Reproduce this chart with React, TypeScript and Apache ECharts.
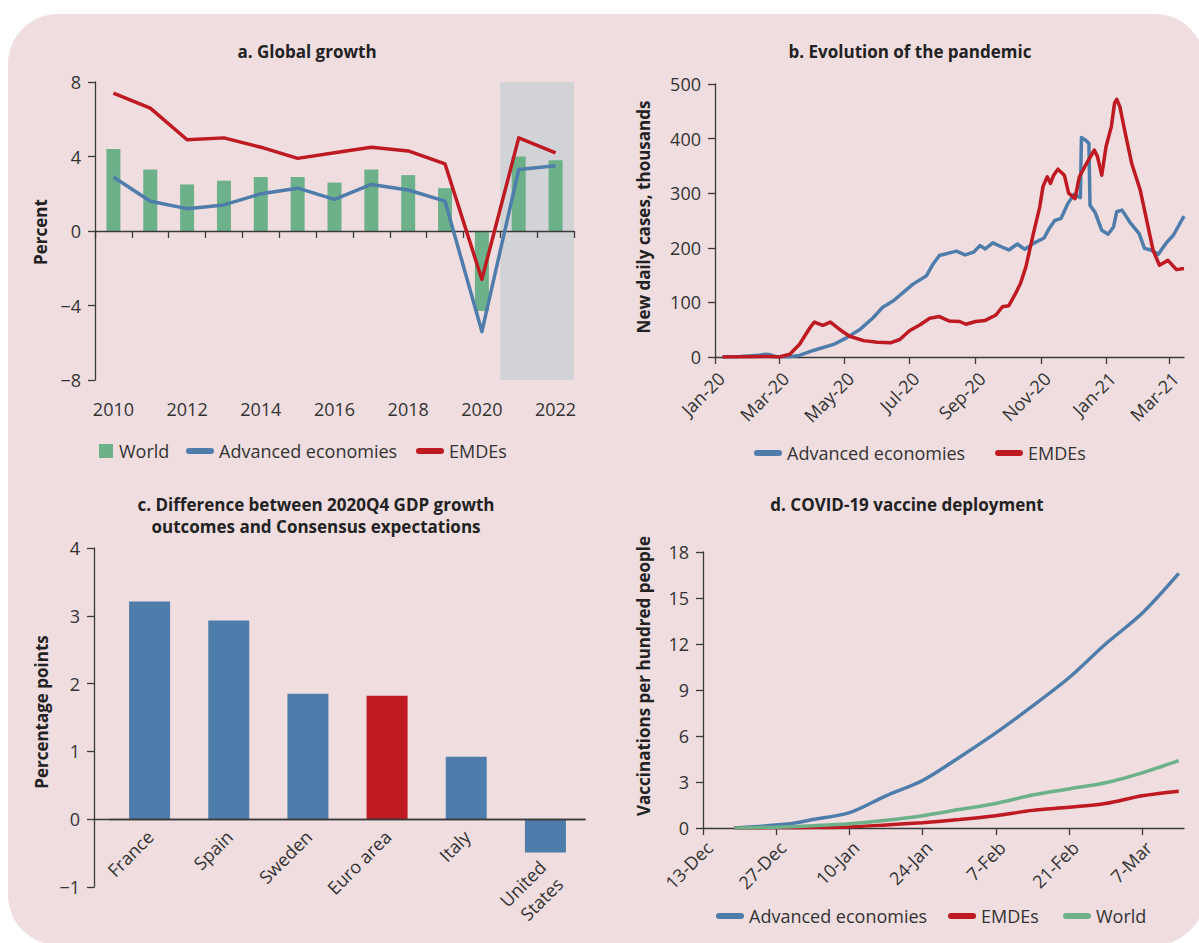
import React, { useEffect, useRef } from 'react';
import * as echarts from 'echarts';

const FONT = "'Open Sans', 'DejaVu Sans', sans-serif";
const BG = '#efdde0';
const BLUE = '#4f7dab';
const RED = '#bf1922';
const GREEN = '#6db18a';
const SHADE = '#d2d3d6';
const AXIS = '#3a3a3a';
const TEXT = '#333333';

// ---------- Panel a: Global growth ----------
const years = ['2010', '2011', '2012', '2013', '2014', '2015', '2016', '2017', '2018', '2019', '2020', '2021', '2022'];
const worldGrowth = [4.4, 3.3, 2.5, 2.7, 2.9, 2.9, 2.6, 3.3, 3.0, 2.3, -4.3, 4.0, 3.8];
const aeGrowth = [2.9, 1.6, 1.2, 1.4, 2.0, 2.3, 1.7, 2.5, 2.2, 1.6, -5.4, 3.3, 3.5];
const emdeGrowth = [7.4, 6.6, 4.9, 5.0, 4.5, 3.9, 4.2, 4.5, 4.3, 3.6, -2.6, 5.0, 4.2];
const forecastYears = ['2021', '2022'];
const growthMin = -8;
const growthMax = 8;

// ---------- Panel b: Evolution of the pandemic ----------
const caseTickDates = ['2020-01-01', '2020-03-01', '2020-05-01', '2020-07-01', '2020-09-01', '2020-11-01', '2021-01-01', '2021-03-01'];
const caseTickLabels = ['Jan-20', 'Mar-20', 'May-20', 'Jul-20', 'Sep-20', 'Nov-20', 'Jan-21', 'Mar-21'];
const caseAxisEnd = '2021-03-15';
const aeCases: [string, number][] = [
  ['2020-01-08', 0], ['2020-01-25', 1], ['2020-02-02', 2], ['2020-02-10', 3], ['2020-02-17', 5], ['2020-02-22', 4],
  ['2020-02-27', 0.5], ['2020-03-10', 0.5], ['2020-03-20', 3], ['2020-04-02', 12], ['2020-04-21', 23], ['2020-05-03', 35],
  ['2020-05-16', 51], ['2020-05-28', 72], ['2020-06-06', 91], ['2020-06-16', 103], ['2020-06-25', 118], ['2020-07-04', 133],
  ['2020-07-17', 149], ['2020-07-23', 170], ['2020-07-29', 186], ['2020-08-14', 194], ['2020-08-22', 187], ['2020-08-30', 192],
  ['2020-09-05', 204], ['2020-09-10', 198], ['2020-09-17', 209], ['2020-09-26', 201], ['2020-10-02', 196], ['2020-10-10', 207],
  ['2020-10-17', 197], ['2020-10-25', 208], ['2020-11-04', 218], ['2020-11-09', 236], ['2020-11-14', 250], ['2020-11-20', 254],
  ['2020-11-26', 280], ['2020-12-02', 298], ['2020-12-08', 292], ['2020-12-09', 402], ['2020-12-13', 397], ['2020-12-16', 391],
  ['2020-12-17', 278], ['2020-12-22', 264], ['2020-12-28', 232], ['2021-01-03', 225], ['2021-01-08', 238], ['2021-01-11', 266],
  ['2021-01-16', 269], ['2021-01-24', 245], ['2021-02-01', 226], ['2021-02-06', 199], ['2021-02-12', 196], ['2021-02-19', 188],
  ['2021-02-26', 208], ['2021-03-05', 223], ['2021-03-15', 258],
];
const emdeCases: [string, number][] = [
  ['2020-01-08', 0], ['2020-02-01', 0.5], ['2020-02-20', 1], ['2020-03-01', 0], ['2020-03-11', 5], ['2020-03-20', 23],
  ['2020-03-30', 54], ['2020-04-03', 64], ['2020-04-11', 58], ['2020-04-18', 64], ['2020-04-27', 50], ['2020-05-06', 38],
  ['2020-05-19', 30], ['2020-06-01', 27], ['2020-06-13', 26], ['2020-06-22', 32], ['2020-07-01', 48], ['2020-07-11', 59],
  ['2020-07-20', 71], ['2020-07-29', 74], ['2020-08-07', 66], ['2020-08-17', 65], ['2020-08-23', 60], ['2020-09-01', 65],
  ['2020-09-10', 67], ['2020-09-20', 77], ['2020-09-26', 92], ['2020-10-02', 94], ['2020-10-08', 115], ['2020-10-13', 135],
  ['2020-10-18', 165], ['2020-10-25', 226], ['2020-10-31', 275], ['2020-11-03', 312], ['2020-11-07', 330], ['2020-11-10', 318],
  ['2020-11-13', 333], ['2020-11-17', 344], ['2020-11-23', 333], ['2020-11-27', 300], ['2020-12-03', 290], ['2020-12-07', 330],
  ['2020-12-14', 355], ['2020-12-21', 379], ['2020-12-24', 367], ['2020-12-28', 333], ['2021-01-01', 385], ['2021-01-06', 422],
  ['2021-01-09', 465], ['2021-01-11', 472], ['2021-01-14', 458], ['2021-01-19', 410], ['2021-01-25', 355], ['2021-02-02', 306],
  ['2021-02-08', 251], ['2021-02-14', 196], ['2021-02-20', 168], ['2021-02-28', 177], ['2021-03-08', 160], ['2021-03-15', 162],
];

// ---------- Panel c: GDP surprise ----------
const countries = ['France', 'Spain', 'Sweden', 'Euro area', 'Italy', 'United\nStates'];
const gdpSurprise = [3.21, 2.93, 1.85, 1.82, 0.92, -0.49];
const highlightedCountry = 'Euro area';
const surpriseMin = -1;
const surpriseMax = 4;

// ---------- Panel d: Vaccine deployment ----------
const vaxTickDates = ['2020-12-13', '2020-12-27', '2021-01-10', '2021-01-24', '2021-02-07', '2021-02-21', '2021-03-07'];
const vaxTickLabels = ['13-Dec', '27-Dec', '10-Jan', '24-Jan', '7-Feb', '21-Feb', '7-Mar'];
const vaxAxisEnd = '2021-03-15';
const aeVax: [string, number][] = [
  ['2020-12-19', 0], ['2020-12-24', 0.12], ['2020-12-30', 0.3], ['2021-01-03', 0.55], ['2021-01-10', 1.0], ['2021-01-17', 2.1],
  ['2021-01-24', 3.1], ['2021-01-31', 4.6], ['2021-02-07', 6.2], ['2021-02-14', 7.95], ['2021-02-21', 9.8], ['2021-02-28', 12.0],
  ['2021-03-07', 14.0], ['2021-03-14', 16.6],
];
const emdeVax: [string, number][] = [
  ['2020-12-19', 0], ['2020-12-27', 0.01], ['2021-01-03', 0.03], ['2021-01-10', 0.07], ['2021-01-17', 0.2], ['2021-01-24', 0.35],
  ['2021-01-31', 0.55], ['2021-02-07', 0.8], ['2021-02-14', 1.15], ['2021-02-21', 1.35], ['2021-02-28', 1.6], ['2021-03-07', 2.1],
  ['2021-03-14', 2.4],
];
const worldVax: [string, number][] = [
  ['2020-12-19', 0], ['2020-12-27', 0.05], ['2021-01-03', 0.15], ['2021-01-10', 0.28], ['2021-01-17', 0.5], ['2021-01-24', 0.8],
  ['2021-01-31', 1.2], ['2021-02-07', 1.6], ['2021-02-14', 2.15], ['2021-02-21', 2.55], ['2021-02-28', 2.95], ['2021-03-07', 3.6],
  ['2021-03-14', 4.4],
];

// ---------- helpers ----------
const DAY = 86400000;
const parseDay = (s: string) => Date.parse(s + 'T00:00:00Z');
function dayRange(start: string, end: string): string[] {
  const out: string[] = [];
  for (let t = parseDay(start); t <= parseDay(end); t += DAY) out.push(new Date(t).toISOString().slice(0, 10));
  return out;
}
const caseDays = dayRange(caseTickDates[0], caseAxisEnd);
const vaxDays = dayRange(vaxTickDates[0], vaxAxisEnd);
const toIndexed = (days: string[], pts: [string, number][]) => pts.map(([d, v]) => [days.indexOf(d), v]);
const minus = (v: number) => String(v).replace('-', '\u2212');

const axisLineStyle = { color: AXIS, width: 1.3 };
const labelBase = { color: TEXT, fontFamily: FONT, fontSize: 18 };
const lineIcon = 'path://M3,0 L25,0 A3,3 0 0 1 25,6 L3,6 A3,3 0 0 1 3,0 Z';
const squareIcon = 'path://M0,0 L14,0 L14,14 L0,14 Z';

function legendItem(name: string, icon: string, color: string, left: number, top: number, width = 28) {
  return {
    show: true, left, top, padding: 0, itemGap: 0, itemWidth: width, itemHeight: 14, selectedMode: false,
    data: [{ name, icon, itemStyle: { color, borderWidth: 0 } }],
    textStyle: { color: TEXT, fontFamily: FONT, fontSize: 18 },
  };
}

function titleText(text: string, x: number, y: number) {
  return {
    type: 'text', x, y, silent: true,
    style: { text, fill: '#222', fontFamily: FONT, fontSize: 17, fontWeight: 'bold', align: 'center', textAlign: 'center', verticalAlign: 'middle', textVerticalAlign: 'middle', lineHeight: 22 },
  };
}
function axisName(text: string, x: number, y: number) {
  return {
    type: 'text', x, y, rotation: Math.PI / 2, silent: true,
    style: { text, fill: '#222', fontFamily: FONT, fontSize: 17, fontWeight: 'bold', align: 'center', textAlign: 'center', verticalAlign: 'middle', textVerticalAlign: 'middle' },
  };
}

function buildOption() {
  const caseTickFn = (_i: number, v: string) => caseTickDates.includes(v);
  const vaxTickFn = (_i: number, v: string) => vaxTickDates.includes(v);
  const valueAxis = (gridIndex: number, min: number, max: number, interval: number, extra: any = {}) => ({
    type: 'value', gridIndex, min, max, interval,
    axisLine: { show: true, onZero: false, lineStyle: axisLineStyle },
    axisTick: { show: true, length: 7, lineStyle: axisLineStyle },
    axisLabel: { ...labelBase, margin: 14, formatter: minus },
    splitLine: { show: false },
    ...extra,
  });
  const g = (left: number, top: number, width: number, height: number) => ({ left, top, width, height, containLabel: false, outerBoundsMode: 'none' });

  // panel c layout: bars grid, a helper grid to extend the zero line to the y axis, and a labels grid ending at zero
  const cTop = 548;
  const cHeight = 339;
  const cZeroHeight = (cHeight * surpriseMax) / (surpriseMax - surpriseMin);

  return {
    animation: false,
    textStyle: { fontFamily: FONT },
    grid: [
      g(95, 82, 479, 298),
      g(715, 84, 469, 273),
      g(110, cTop, 475, cHeight),
      g(94, cTop, 491, cHeight),
      g(703, 552, 481, 276),
      g(110, cTop, 475, cZeroHeight),
    ],
    xAxis: [
      {
        type: 'category', gridIndex: 0, data: years, position: 'bottom',
        axisLine: { show: false, onZero: false }, axisTick: { show: false },
        axisLabel: { ...labelBase, interval: 1, margin: 20 }, splitLine: { show: false },
      },
      {
        type: 'category', gridIndex: 0, data: years, position: 'bottom', z: 3,
        axisLine: { show: true, onZero: true, lineStyle: axisLineStyle },
        axisTick: { show: true, interval: 0, length: 7, lineStyle: axisLineStyle },
        axisLabel: { show: false }, splitLine: { show: false },
      },
      {
        type: 'category', gridIndex: 1, data: caseDays, boundaryGap: false,
        axisLine: { show: true, onZero: true, lineStyle: axisLineStyle },
        axisTick: { show: true, interval: caseTickFn, length: 7, lineStyle: axisLineStyle },
        axisLabel: {
          ...labelBase, interval: caseTickFn, rotate: 45, align: 'right', verticalAlign: 'top', margin: 12,
          formatter: (v: string) => caseTickLabels[caseTickDates.indexOf(v)] ?? '',
        },
        splitLine: { show: false },
      },
      {
        type: 'category', gridIndex: 2, z: 3, data: countries,
        axisLine: { show: true, onZero: true, lineStyle: axisLineStyle },
        axisTick: { show: false }, axisLabel: { show: false }, splitLine: { show: false },
      },
      {
        type: 'value', gridIndex: 3, min: 0, max: 1, z: 3,
        axisLine: { show: true, onZero: true, lineStyle: axisLineStyle },
        axisTick: { show: false }, axisLabel: { show: false }, splitLine: { show: false },
      },
      {
        type: 'category', gridIndex: 4, data: vaxDays, boundaryGap: false,
        axisLine: { show: true, onZero: true, lineStyle: axisLineStyle },
        axisTick: { show: true, interval: vaxTickFn, length: 7, lineStyle: axisLineStyle },
        axisLabel: {
          ...labelBase, interval: vaxTickFn, rotate: 45, align: 'right', verticalAlign: 'top', margin: 10,
          formatter: (v: string) => vaxTickLabels[vaxTickDates.indexOf(v)] ?? '',
        },
        splitLine: { show: false },
      },
      {
        type: 'category', gridIndex: 5, position: 'bottom',
        data: countries.map((c) =>
          c.includes('\n')
            ? { value: c, textStyle: { ...labelBase, align: 'right', verticalAlign: 'top', padding: [19, 35, 0, 0], lineHeight: 24 } }
            : c,
        ),
        axisLine: { show: false, onZero: false }, axisTick: { show: false },
        axisLabel: { ...labelBase, interval: 0, rotate: 45, align: 'right', verticalAlign: 'top', margin: -2, padding: [0, 11, 0, 0], lineHeight: 24 },
        splitLine: { show: false },
      },
    ],
    yAxis: [
      valueAxis(0, growthMin, growthMax, 4),
      valueAxis(1, 0, 500, 100),
      valueAxis(2, surpriseMin, surpriseMax, 1, { offset: 16 }),
      { type: 'value', gridIndex: 3, min: surpriseMin, max: surpriseMax, show: false, splitLine: { show: false } },
      valueAxis(4, 0, 18, 3),
      { type: 'value', gridIndex: 5, min: 0, max: surpriseMax, show: false, splitLine: { show: false } },
    ],
    legend: [
      legendItem('World', squareIcon, GREEN, 99, 442, 16),
      legendItem('Advanced economies', lineIcon, BLUE, 186, 442),
      legendItem('EMDEs', lineIcon, RED, 416, 442),
      legendItem('Advanced economies', lineIcon, BLUE, 754, 444),
      legendItem('EMDEs', lineIcon, RED, 995, 444),
      legendItem('Advanced economies', lineIcon, BLUE, 716, 907),
      legendItem('EMDEs', lineIcon, RED, 948, 907),
      legendItem('World', lineIcon, GREEN, 1063, 907),
    ],
    graphic: [
      titleText('a. Global growth', 307, 51),
      titleText('b. Evolution of the pandemic', 910, 51),
      titleText('c. Difference between 2020Q4 GDP growth\noutcomes and Consensus expectations', 316, 515),
      titleText('d. COVID-19 vaccine deployment', 907, 504),
      axisName('Percent', 40, 232),
      axisName('New daily cases, thousands', 643, 217),
      axisName('Percentage points', 41, 712),
      axisName('Vaccinations per hundred people', 643, 676),
    ],
    series: [
      // Panel a
      {
        name: 'forecastShadeUp', type: 'bar', xAxisIndex: 0, yAxisIndex: 0, stack: 'shade', barWidth: '100%', silent: true, z: 1,
        data: years.map((y) => (forecastYears.includes(y) ? growthMax : null)), itemStyle: { color: SHADE },
      },
      {
        name: 'forecastShadeDown', type: 'bar', xAxisIndex: 0, yAxisIndex: 0, stack: 'shade', barWidth: '100%', silent: true, z: 1,
        data: years.map((y) => (forecastYears.includes(y) ? growthMin : null)), itemStyle: { color: SHADE },
      },
      { name: 'World', type: 'bar', xAxisIndex: 1, yAxisIndex: 0, barWidth: 14, data: worldGrowth, itemStyle: { color: GREEN }, z: 2 },
      {
        name: 'Advanced economies', type: 'line', xAxisIndex: 1, yAxisIndex: 0, data: aeGrowth, symbol: 'none', z: 4,
        lineStyle: { color: BLUE, width: 3.5, join: 'round' }, itemStyle: { color: BLUE },
      },
      {
        name: 'EMDEs', type: 'line', xAxisIndex: 1, yAxisIndex: 0, data: emdeGrowth, symbol: 'none', z: 4,
        lineStyle: { color: RED, width: 3.5, join: 'round' }, itemStyle: { color: RED },
      },
      // Panel b
      {
        name: 'Advanced economies', type: 'line', xAxisIndex: 2, yAxisIndex: 1, data: toIndexed(caseDays, aeCases), symbol: 'none',
        lineStyle: { color: BLUE, width: 3.5, join: 'round' }, itemStyle: { color: BLUE },
      },
      {
        name: 'EMDEs', type: 'line', xAxisIndex: 2, yAxisIndex: 1, data: toIndexed(caseDays, emdeCases), symbol: 'none',
        lineStyle: { color: RED, width: 3.5, join: 'round' }, itemStyle: { color: RED },
      },
      // Panel c
      {
        name: 'gdpSurprise', type: 'bar', xAxisIndex: 3, yAxisIndex: 2, barWidth: 41,
        data: gdpSurprise.map((v, i) => ({ value: v, itemStyle: { color: countries[i] === highlightedCountry ? RED : BLUE } })),
      },
      // Panel d
      {
        name: 'Advanced economies', type: 'line', xAxisIndex: 5, yAxisIndex: 4, data: toIndexed(vaxDays, aeVax), symbol: 'none', smooth: 0.3,
        lineStyle: { color: BLUE, width: 3.5 }, itemStyle: { color: BLUE },
      },
      {
        name: 'EMDEs', type: 'line', xAxisIndex: 5, yAxisIndex: 4, data: toIndexed(vaxDays, emdeVax), symbol: 'none', smooth: 0.3,
        lineStyle: { color: RED, width: 3.5 }, itemStyle: { color: RED },
      },
      {
        name: 'World', type: 'line', xAxisIndex: 5, yAxisIndex: 4, data: toIndexed(vaxDays, worldVax), symbol: 'none', smooth: 0.3,
        lineStyle: { color: GREEN, width: 3.5 }, itemStyle: { color: GREEN },
      },
    ],
  };
}

export default function App() {
  const ref = useRef<HTMLDivElement>(null);
  useEffect(() => {
    if (!ref.current) return;
    const chart = echarts.init(ref.current, undefined, { renderer: 'svg' });
    chart.setOption(buildOption() as any);
    return () => chart.dispose();
  }, []);
  return (
    <div style={{ position: 'fixed', left: 0, top: 0, width: 1199, height: 943, overflow: 'hidden', background: '#ffffff' }}>
      <div style={{ position: 'absolute', left: 8, top: 14, width: 1197, height: 931, borderRadius: 50, background: BG }} />
      <div ref={ref} style={{ position: 'absolute', left: 0, top: 0, width: 1199, height: 943 }} />
    </div>
  );
}
